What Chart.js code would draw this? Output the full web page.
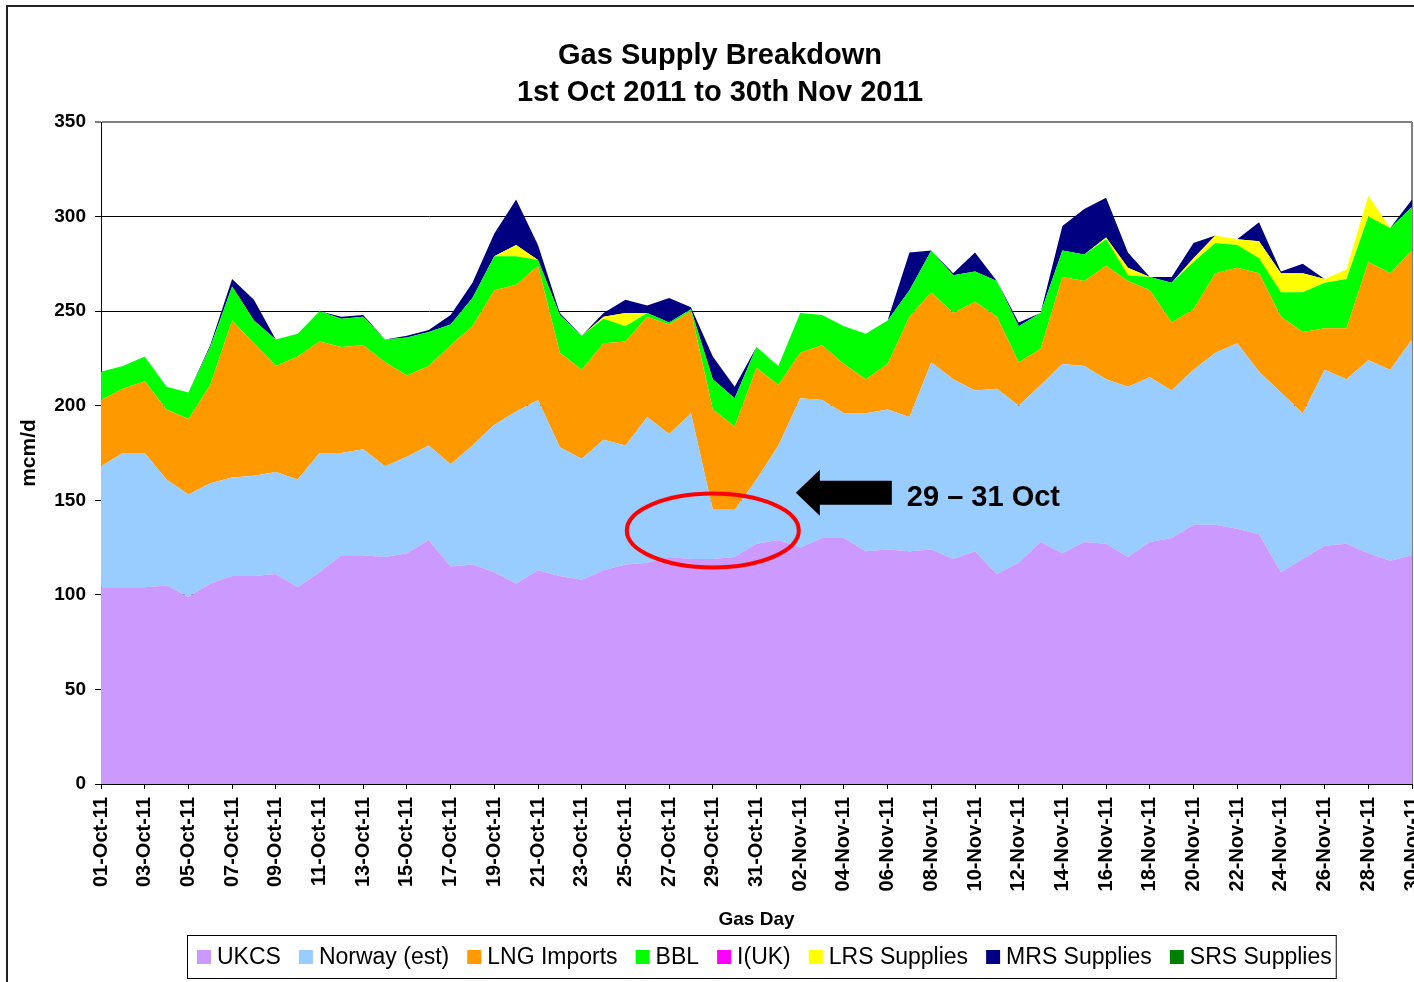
<!DOCTYPE html>
<html>
<head>
<meta charset="utf-8">
<title>Gas Supply Breakdown</title>
<script src="https://cdn.jsdelivr.net/npm/chart.js@4.4.1/dist/chart.umd.min.js"></script>
<style>
  html, body { margin: 0; padding: 0; background: #fff; }
  #wrap { position: relative; width: 1414px; height: 982px; }
</style>
</head>
<body>
<div id="wrap"><canvas id="gasChart"></canvas></div>
<script>
// gas days, 1 Oct - 30 Nov 2011
const days = [
  '01-Oct-11','02-Oct-11','03-Oct-11','04-Oct-11','05-Oct-11','06-Oct-11','07-Oct-11','08-Oct-11','09-Oct-11','10-Oct-11',
  '11-Oct-11','12-Oct-11','13-Oct-11','14-Oct-11','15-Oct-11','16-Oct-11','17-Oct-11','18-Oct-11','19-Oct-11','20-Oct-11',
  '21-Oct-11','22-Oct-11','23-Oct-11','24-Oct-11','25-Oct-11','26-Oct-11','27-Oct-11','28-Oct-11','29-Oct-11','30-Oct-11',
  '31-Oct-11','01-Nov-11','02-Nov-11','03-Nov-11','04-Nov-11','05-Nov-11','06-Nov-11','07-Nov-11','08-Nov-11','09-Nov-11',
  '10-Nov-11','11-Nov-11','12-Nov-11','13-Nov-11','14-Nov-11','15-Nov-11','16-Nov-11','17-Nov-11','18-Nov-11','19-Nov-11',
  '20-Nov-11','21-Nov-11','22-Nov-11','23-Nov-11','24-Nov-11','25-Nov-11','26-Nov-11','27-Nov-11','28-Nov-11','29-Nov-11',
  '30-Nov-11'
];

// supply by source, mcm/d
const ukcs = [
  104,104,104,105,99,106,110,110,111,104,
  112,121,121,120,122,129,115,116,112,106,
  113,110,108,113,116,117,120,119,119,120,
  127,129,125,130,130,123,124,123,124,119,
  123,111,117,128,122,128,127,120,128,130,
  137,137,135,132,112,119,126,127,122,118,121
];
const norway = [
  64,71,71,56,54,53,52,53,54,57,
  63,54,56,48,51,50,54,63,78,91,
  90,68,64,69,63,77,65,77,26,25,
  34,50,79,73,66,73,74,71,99,95,
  85,98,83,83,100,93,87,90,87,78,
  82,91,98,86,95,77,93,87,102,101,114
];
const lng = [
  35,34,38,37,40,52,83,70,56,65,
  59,56,55,55,43,42,63,63,71,67,
  71,50,47,51,55,53,58,54,53,44,
  59,32,24,29,26,18,24,53,37,35,
  47,38,23,19,46,45,60,56,46,36,
  32,42,40,52,40,43,22,27,52,51,47
];
const bbl = [
  15,12,13,12,14,20,18,12,14,12,
  16,15,15,12,20,18,11,15,18,15,
  3,20,18,13,8,2,1,1,16,15,
  11,10,21,16,20,24,23,14,22,20,
  16,19,19,19,14,14,14,3,7,21,
  25,16,12,8,13,21,24,26,24,24,23
];
const iuk = [
  0,0,0,0,0,0,0,0,0,0,
  0,0,0,0,0,0,0,0,0,0,
  0,0,0,0,0,0,0,0,0,0,
  0,0,0,0,0,0,0,0,0,0,
  0,0,0,0,0,0,0,0,0,0,
  0,0,0,0,0,0,0,0,0,0,0
];
const lrs = [
  0,0,0,0,0,0,0,0,0,0,
  0,0,0,0,0,0,0,0,0,6,
  0,0,0,1,7,0,0,0,0,0,
  0,0,0,0,0,0,0,0,0,0,
  0,0,0,0,0,0,1,4,0,0,
  2,4,3,9,10,10,2,5,11,0,0
];
const mrs = [
  0,0,0,0,0,1,4,11,0,0,
  0,1,1,0,1,1,5,8,12,24,
  8,1,0,2,7,4,13,1,12,6,
  0,0,0,0,0,0,0,20,0,1,
  10,0,2,0,13,24,21,8,0,3,
  8,0,0,10,1,5,0,0,0,0,4
];
const srs = [
  0,0,0,0,0,0,0,0,0,0,
  0,0,0,0,0,0,0,0,0,0,
  0,0,0,0,0,0,0,0,0,0,
  0,0,0,0,0,0,0,0,0,0,
  0,0,0,0,0,0,0,0,0,0,
  0,0,0,0,0,0,0,0,0,0,0
];

const seriesNames = ['UKCS', 'Norway (est)', 'LNG Imports', 'BBL', 'I(UK)', 'LRS Supplies', 'MRS Supplies', 'SRS Supplies'];
const yTicks = [0, 50, 100, 150, 200, 250, 300, 350];
const titleLines = ['Gas Supply Breakdown', '1st Oct 2011 to 30th Nov 2011'];
const noteText = '29 \u2013 31 Oct';

const colors = ['#CC99FF', '#99CCFF', '#FF9900', '#00FF00', '#FF00FF', '#FFFF00', '#000080', '#008000'];
const FONT = '"Liberation Sans", Arial, Helvetica, sans-serif';

Chart.defaults.font.family = FONT;
Chart.defaults.color = '#000';

const values = [ukcs, norway, lng, bbl, iuk, lrs, mrs, srs];

// frame, title, legend box and the 29-31 Oct note
const decor = {
  id: 'decor',
  beforeDatasetsDraw(chart) {
    const { ctx, chartArea: a } = chart;
    ctx.save();
    ctx.strokeStyle = '#808080';
    ctx.lineWidth = 2;
    ctx.beginPath();
    ctx.moveTo(a.right, a.top);
    ctx.lineTo(a.right, a.bottom);
    ctx.stroke();
    ctx.restore();
  },
  afterDraw(chart) {
    const { ctx, scales: { x, y } } = chart;
    ctx.save();

    ctx.strokeStyle = '#222';
    ctx.lineWidth = 2;
    ctx.beginPath();
    ctx.moveTo(7, 982);
    ctx.lineTo(7, 6);
    ctx.lineTo(1414, 6);
    ctx.stroke();

    ctx.fillStyle = '#000';
    ctx.font = 'bold 29px ' + FONT;
    ctx.textAlign = 'center';
    ctx.textBaseline = 'alphabetic';
    ctx.fillText(titleLines[0], 720, 64);
    ctx.fillText(titleLines[1], 720, 101);

    // red ring round 29-30 Oct
    const cx = x.getPixelForValue(28);
    const cy = y.getPixelForValue(134);
    ctx.strokeStyle = '#FF0000';
    ctx.lineWidth = 4;
    ctx.beginPath();
    ctx.ellipse(cx, cy, 86, 37, 0, 0, Math.PI * 2);
    ctx.stroke();

    // arrow pointing at it
    const tipX = x.getPixelForValue(31.8);
    const ay = y.getPixelForValue(154);
    ctx.fillStyle = '#000';
    ctx.beginPath();
    ctx.moveTo(tipX, ay);
    ctx.lineTo(tipX + 24, ay - 23);
    ctx.lineTo(tipX + 24, ay - 12);
    ctx.lineTo(tipX + 96, ay - 12);
    ctx.lineTo(tipX + 96, ay + 12);
    ctx.lineTo(tipX + 24, ay + 12);
    ctx.lineTo(tipX + 24, ay + 23);
    ctx.closePath();
    ctx.fill();
    ctx.font = 'bold 29px ' + FONT;
    ctx.textAlign = 'left';
    ctx.fillText(noteText, tipX + 111, ay + 13);

    // legend
    ctx.font = '23px ' + FONT;
    ctx.textBaseline = 'alphabetic';
    let lx = 197;
    chart.data.datasets.forEach(ds => {
      ctx.fillStyle = ds.backgroundColor;
      ctx.fillRect(lx, 950, 14, 14);
      ctx.fillStyle = '#000';
      ctx.fillText(ds.label, lx + 20, 964);
      lx += 20 + ctx.measureText(ds.label).width + 18;
    });
    ctx.strokeStyle = '#000';
    ctx.lineWidth = 1;
    ctx.strokeRect(187.5, 935.5, lx - 18 + 4 - 187, 43);

    ctx.restore();
  }
};

new Chart(document.getElementById('gasChart'), {
  type: 'line',
  data: {
    labels: days,
    datasets: seriesNames.map((name, i) => ({
      label: name,
      data: values[i],
      backgroundColor: colors[i],
      borderColor: colors[i],
      borderWidth: 0,
      pointRadius: 0,
      tension: 0,
      fill: i === 0 ? 'origin' : '-1'
    }))
  },
  options: {
    responsive: true,
    maintainAspectRatio: false,
    animation: false,
    layout: { padding: { left: 8, right: 2, top: 122, bottom: 48 } },
    plugins: {
      legend: { display: false },
      title: { display: false },
      tooltip: { enabled: false }
    },
    scales: {
      x: {
        ticks: {
          autoSkip: false,
          minRotation: 90,
          maxRotation: 90,
          padding: 8,
          font: { size: 20, weight: 'bold' },
          color: '#000',
          callback(v, i) { return i % 2 === 0 ? this.getLabelForValue(v) : null; }
        },
        grid: { drawOnChartArea: false, tickLength: 5, color: '#000' },
        border: { color: '#000', width: 1 },
        title: { display: true, text: 'Gas Day', font: { size: 19, weight: 'bold' }, color: '#000', padding: { top: 0, bottom: 3 } },
        afterFit(s) { s.height = 150; s.paddingLeft = 0; s.paddingRight = 0; }
      },
      y: {
        stacked: true,
        min: 0,
        max: 350,
        afterBuildTicks(s) { s.ticks = yTicks.map(v => ({ value: v })); },
        ticks: { padding: 9, font: { size: 19, weight: 'bold' }, color: '#000' },
        grid: {
          color: c => (c.tick && c.tick.value === 350 ? '#808080' : '#000'),
          lineWidth: c => (c.tick && c.tick.value === 350 ? 2 : 1),
          tickLength: 6
        },
        border: { color: '#000', width: 1 },
        title: { display: true, text: 'mcm/d', font: { size: 21, weight: 'bold' }, color: '#000', padding: { top: 9, bottom: 0 } },
        afterFit(s) { s.width = 93; s.paddingTop = 0; s.paddingBottom = 0; }
      }
    }
  },
  plugins: [decor]
});
</script>
</body>
</html>
